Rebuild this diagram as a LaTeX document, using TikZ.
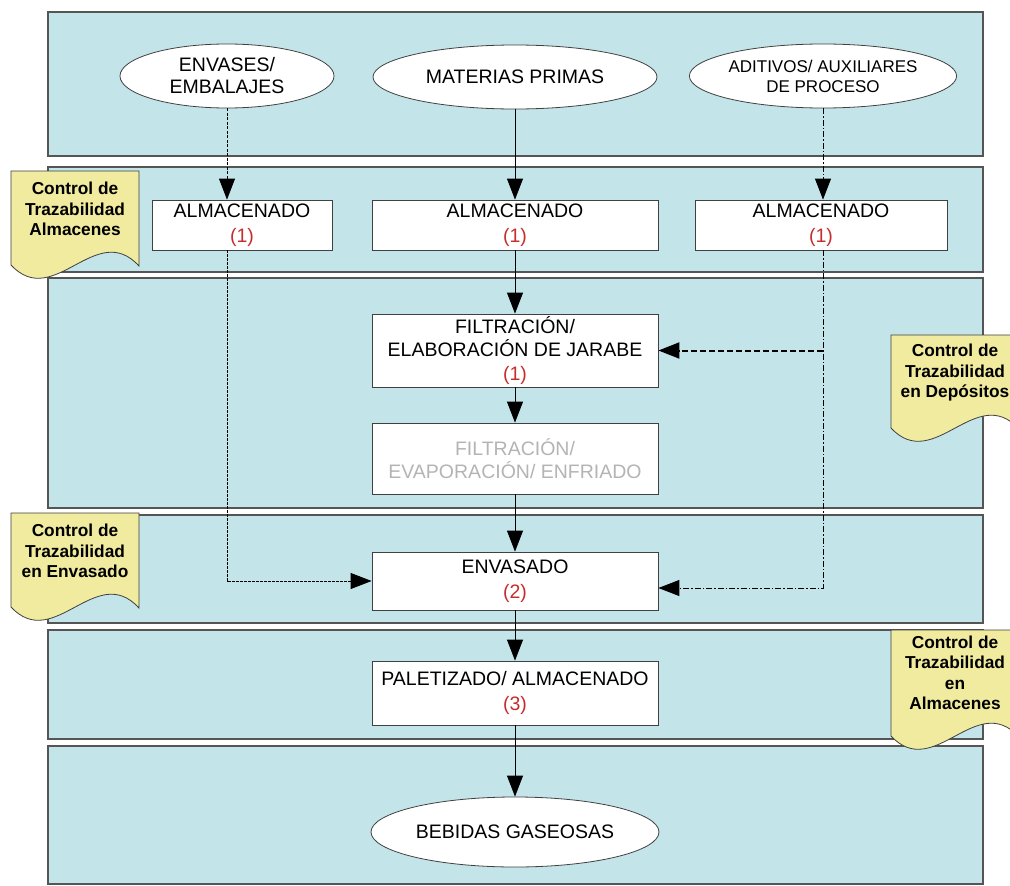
\documentclass[tikz,border=0pt]{standalone}
\usepackage{fontspec}
\setmainfont{Liberation Sans}
\usetikzlibrary{shapes.geometric,arrows.meta}
\definecolor{bandfill}{HTML}{C3E4E8}
\definecolor{bandline}{HTML}{555555}
\definecolor{boxline}{HTML}{404040}
\definecolor{notefill}{HTML}{F0EB9E}
\definecolor{numred}{HTML}{C62D2D}
\definecolor{greytext}{HTML}{B4B4B4}
\newcommand\mainfs{\fontsize{19.5}{25}\selectfont}
\newcommand\smallfs{\fontsize{17}{20}\selectfont}
\newcommand\notefs{\fontsize{17.3}{20.5}\selectfont\bfseries}
\newcommand\docnote[3]{%
  \begin{scope}[shift={(#1,#2)}]
    \filldraw[notebg] (0,0) -- (128,0) -- (128,#3+1) .. controls (85,#3-46) and (43,#3+46) .. (0,#3) -- cycle;
  \end{scope}}
\begin{document}
\begin{tikzpicture}[x=1pt,y=-1pt,
  band/.style={draw=bandline, fill=bandfill, line width=1.2pt},
  oval/.style={ellipse, draw=boxline, fill=white, line width=0.8pt, inner sep=0pt, align=center, font=\mainfs},
  stepbox/.style={rectangle, draw=boxline, fill=white, line width=0.8pt, inner sep=0pt, align=center, font=\mainfs},
  notebg/.style={draw=boxline, fill=notefill, line width=0.8pt},
  notetext/.style={align=center, font=\notefs, inner sep=0pt},
  arrowed/.style={-{Triangle[length=21pt,width=16pt]}},
  flow/.style={arrowed, line width=0.9pt, black},
  fineflow/.style={flow, dash pattern=on 3pt off 1.5pt},
  dotflow/.style={flow, dash pattern=on 3pt off 1pt},
  dotdashflow/.style={flow, dash pattern=on 6pt off 2pt on 1.5pt off 2pt},
  thickdash/.style={arrowed, line width=2pt, black, dash pattern=on 6pt off 3pt}]
\useasboundingbox (0,0) rectangle (1010,886);
\fill[white] (0,0) rectangle (1010,886);
% bands
\draw[band] (48,12) rectangle (983,156);
\draw[band] (48,167) rectangle (983,272);
\draw[band] (48,278) rectangle (983,508);
\draw[band] (48,515) rectangle (983,623);
\draw[band] (48,630) rectangle (983,739);
\draw[band] (48,746) rectangle (983,884);
% notes
\docnote{11}{171}{94}
\docnote{891}{335}{93}
\docnote{11}{513}{94}
\docnote{891}{630}{106}
\node[notetext] (n1) at (75,209) {Control de\\Trazabilidad\\Almacenes};
\node[notetext] (n2) at (955,373) {Control de\\Trazabilidad\\en Depósitos};
\node[notetext] (n3) at (75,551) {Control de\\Trazabilidad\\en Envasado};
\node[notetext] (n4) at (955,673) {Control de\\Trazabilidad\\en\\Almacenes};
% sources
\node[oval, minimum width=214pt, minimum height=64pt, font=\fontsize{19.5}{22}\selectfont] (e1) at (227,76) {ENVASES/\\EMBALAJES};
\node[oval, minimum width=284pt, minimum height=64pt] (e2) at (515,77) {MATERIAS PRIMAS};
\node[oval, minimum width=264pt, minimum height=64pt, font=\smallfs] (e3) at (823,76) {ADITIVOS/ AUXILIARES\\DE PROCESO};
% storage
\node[stepbox, minimum width=180pt, minimum height=50pt] (a1) at (242,225) {ALMACENADO\\\textcolor{numred}{(1)}};
\node[stepbox, minimum width=286pt, minimum height=50pt] (a2) at (515,225) {ALMACENADO\\\textcolor{numred}{(1)}};
\node[stepbox, minimum width=252pt, minimum height=50pt] (a3) at (821,225) {ALMACENADO\\\textcolor{numred}{(1)}};
% process
\node[stepbox, minimum width=286pt, minimum height=73pt, font=\fontsize{19.5}{23.5}\selectfont] (filt) at (515,350.5) {FILTRACIÓN/\\ELABORACIÓN DE JARABE\\\textcolor{numred}{(1)}};
\node[stepbox, minimum width=286pt, minimum height=71pt, font=\fontsize{19.5}{23}\selectfont, text=greytext] (evap) at (515,458.5) {FILTRACIÓN/\\EVAPORACIÓN/ ENFRIADO};
\node[stepbox, minimum width=286pt, minimum height=58pt] (env) at (515,581) {ENVASADO\\\textcolor{numred}{(2)}};
\node[stepbox, minimum width=286pt, minimum height=64pt] (pal) at (515,693) {PALETIZADO/ ALMACENADO\\\textcolor{numred}{(3)}};
\node[oval, minimum width=288pt, minimum height=70pt] (e4) at (515,832) {BEBIDAS GASEOSAS};
% connectors
\draw[fineflow] (e1.south) -- (e1.south |- a1.north);
\draw[flow] (e2.south) -- (a2.north);
\draw[dotdashflow] (e3.south) -- (e3.south |- a3.north);
\draw[flow] (a2.south) -- (filt.north);
\draw[flow] (filt.south) -- (evap.north);
\draw[flow] (evap.south) -- (env.north);
\draw[flow] (env.south) -- (pal.north);
\draw[flow] (pal.south) -- (e4.north);
\draw[dotflow] (e1.south |- a1.south) |- (env.west);
\draw[dotdashflow] (e3.south |- a3.south) |- ([yshift=-7pt]env.east);
\coordinate (branch) at (e3.south |- filt.east);
\draw[thickdash] (branch) -- (filt.east);
\end{tikzpicture}
\end{document}
